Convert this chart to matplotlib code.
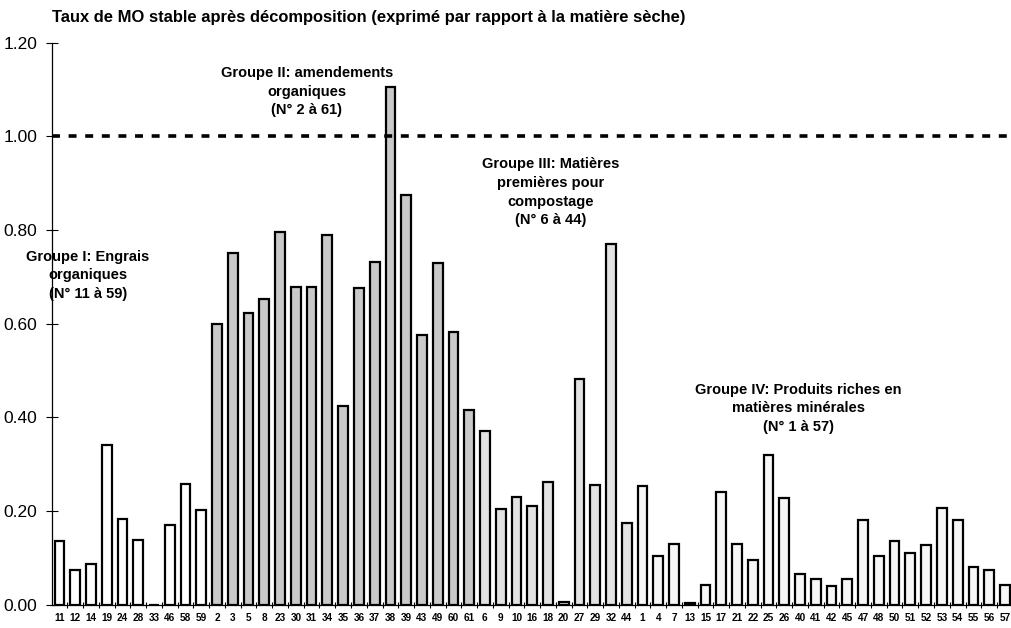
import matplotlib
matplotlib.use("Agg")
import matplotlib.pyplot as plt
import numpy as np

# sample numbers, in order, grouped
group1_labels = ["11", "12", "14", "19", "24", "28", "33", "46", "58", "59"]
group1_values = [0.137, 0.075, 0.088, 0.342, 0.183, 0.139, 0.0, 0.170, 0.258, 0.203]

group2_labels = ["2", "3", "5", "8", "23", "30", "31", "34", "35", "36", "37", "38",
                 "39", "43", "49", "60", "61"]
group2_values = [0.600, 0.750, 0.623, 0.653, 0.796, 0.678, 0.678, 0.790, 0.424, 0.677,
                 0.732, 1.105, 0.875, 0.575, 0.730, 0.583, 0.415]

group3_labels = ["6", "9", "10", "16", "18", "20", "27", "29", "32", "44"]
group3_values = [0.372, 0.204, 0.230, 0.211, 0.263, 0.006, 0.481, 0.255, 0.770, 0.175]

group4_labels = ["1", "4", "7", "13", "15", "17", "21", "22", "25", "26", "40", "41",
                 "42", "45", "47", "48", "50", "51", "52", "53", "54", "55", "56", "57"]
group4_values = [0.253, 0.104, 0.130, 0.004, 0.042, 0.240, 0.129, 0.096, 0.320, 0.229,
                 0.065, 0.056, 0.039, 0.054, 0.181, 0.104, 0.137, 0.111, 0.127, 0.206,
                 0.181, 0.080, 0.074, 0.042]

group_colors = ["#ffffff", "#c9c9c9", "#e2e2e2", "#f7f7f7"]

group_texts = [
    "Groupe I: Engrais\norganiques\n(N° 11 à 59)",
    "Groupe II: amendements\norganiques\n(N° 2 à 61)",
    "Groupe III: Matières\npremières pour\ncompostage\n(N° 6 à 44)",
    "Groupe IV: Produits riches en\nmatières minérales\n(N° 1 à 57)",
]

plt.rcParams['font.family'] = ['Liberation Sans', 'DejaVu Sans']

fig = plt.figure(figsize=(10.12, 6.28), dpi=100)
ax = fig.add_axes([0.051, 0.037, 0.949, 0.895])

groups = [(group1_labels, group1_values), (group2_labels, group2_values),
          (group3_labels, group3_values), (group4_labels, group4_values)]

labels = []
start = 0
for (labs, vals), col in zip(groups, group_colors):
    x = np.arange(start, start + len(labs))
    ax.bar(x, vals, width=0.62, color=col, edgecolor="black", linewidth=1.6)
    labels += labs
    start += len(labs)

n = len(labels)
ax.set_xlim(-0.5, n - 0.55)
ax.set_ylim(0, 1.2)

ax.axhline(1.0, color="black", linestyle=(0, (2.2, 2.4)), linewidth=2.6)

# y axis
ax.set_yticks(np.arange(0, 1.21, 0.2))
ax.set_yticklabels([f"{v:.2f}" for v in np.arange(0, 1.21, 0.2)], fontsize=12.5)
ax.tick_params(axis="y", direction="inout", length=9, width=0.8, pad=6)

# x axis: labels at bars, small marks between bars
ax.set_xticks(np.arange(n))
ax.set_xticklabels(labels, fontsize=7.2, fontweight="bold")
ax.set_xticks(np.arange(n - 1) + 0.5, minor=True)
ax.tick_params(axis="x", which="major", length=0, pad=6)
ax.tick_params(axis="x", which="minor", direction="inout", length=5, width=0.8)

for side in ["top", "right"]:
    ax.spines[side].set_visible(False)
ax.spines["left"].set_linewidth(0.9)
ax.spines["bottom"].set_linewidth(0.9)

# group annotations
note_style = dict(ha="center", va="top", fontsize=10.5, fontweight="bold", linespacing=1.42)
ax.text(1.8, 0.758, group_texts[0], **note_style)
ax.text(15.7, 1.15, group_texts[1], **note_style)
ax.text(31.2, 0.955, group_texts[2], **note_style)
ax.text(46.9, 0.474, group_texts[3], **note_style)

fig.text(0.051, 0.972, "Taux de MO stable après décomposition (exprimé par rapport à la matière sèche)",
         ha="left", va="center", fontsize=11.9, fontweight="bold")

fig.savefig("out.png", dpi=100)
